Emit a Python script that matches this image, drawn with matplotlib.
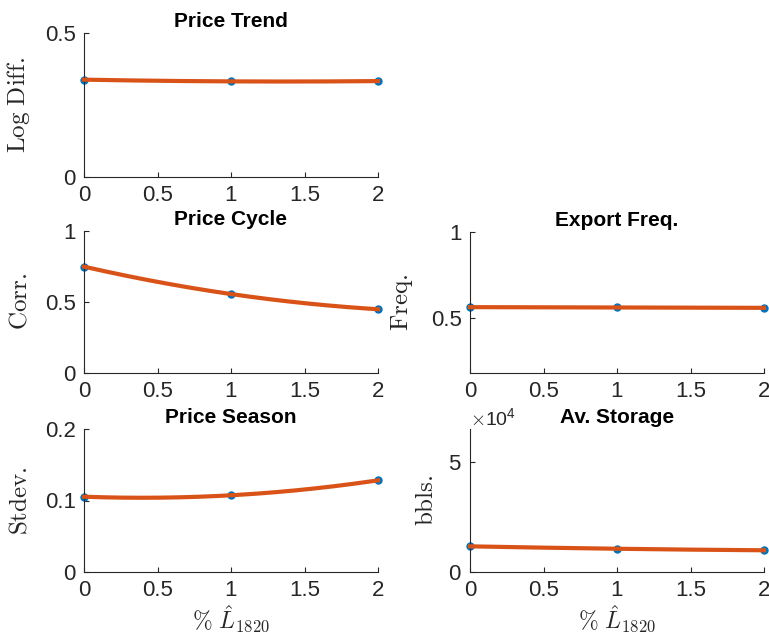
import numpy as np
import matplotlib
matplotlib.use('Agg')
import matplotlib.pyplot as plt
from matplotlib.ticker import ScalarFormatter

# 数据
x_vals = [0, 1, 2]
price_trend = [0.338, 0.332, 0.333]
price_cycle = [0.749, 0.556, 0.449]
export_freq = [0.563, 0.561, 0.559]
price_season = [0.1053, 0.1073, 0.1282]
av_storage = [1.17e4, 1.06e4, 0.99e4]

titles = ['Price Trend', 'Price Cycle', 'Export Freq.', 'Price Season', 'Av. Storage']
ylabels = [r'$\mathrm{Log\ Diff.}$', r'$\mathrm{Corr.}$', r'$\mathrm{Freq.}$',
           r'$\mathrm{Stdev.}$', r'$\mathrm{bbls.}$']
xlabel = r'$\%\ \hat{L}_{1820}$'

plt.rcParams['font.family'] = ['Liberation Sans', 'DejaVu Sans']
plt.rcParams['mathtext.fontset'] = 'cm'

W, H = 769, 641
fig = plt.figure(figsize=(W / 100, H / 100), dpi=100)

gray = '#262626'
line_c = '#D95319'
dot_c = '#0072BD'


def make_ax(left, top, right, bottom):
    return fig.add_axes([left / W, (H - bottom) / H, (right - left) / W, (bottom - top) / H])


# 子图位置（像素）
ax1 = make_ax(84, 33, 378, 177)
ax2 = make_ax(84, 231, 378, 373)
ax3 = make_ax(470, 232, 764, 373)
ax4 = make_ax(84, 429, 378, 572)
ax5 = make_ax(470, 429, 764, 572)

axes = [ax1, ax2, ax3, ax4, ax5]
data = [price_trend, price_cycle, export_freq, price_season, av_storage]
ylims = [(0, 0.5), (0, 1), (0.18, 1), (0, 0.2), (0, 6.52e4)]
yticks = [[0, 0.5], [0, 0.5, 1], [0.5, 1], [0, 0.1, 0.2], [0, 5e4]]
label_x = [-0.177, -0.177, -0.187, -0.18, -0.11]

for ax, y, t, yl, lim, yt, lx in zip(axes, data, titles, ylabels, ylims, yticks, label_x):
    # 二次拟合曲线
    p = np.polyfit(x_vals, y, 2)
    xx = np.linspace(0, 2, 200)
    ax.plot(x_vals, y, 'o', color=dot_c, markersize=5, clip_on=False, zorder=2)
    ax.plot(xx, np.polyval(p, xx), color=line_c, linewidth=3, zorder=3, clip_on=False)
    ax.set_xlim(0, 2)
    ax.set_ylim(*lim)
    ax.set_xticks([0, 0.5, 1, 1.5, 2])
    ax.set_xticklabels(['0', '0.5', '1', '1.5', '2'])
    ax.set_yticks(yt)
    ax.set_title(t, fontsize=15, fontweight='bold', pad=4)
    ax.set_ylabel(yl, fontsize=18, color=gray)
    ax.yaxis.set_label_coords(lx, 0.5)
    ax.spines['top'].set_visible(False)
    ax.spines['right'].set_visible(False)
    for s in ['left', 'bottom']:
        ax.spines[s].set_color(gray)
        ax.spines[s].set_linewidth(0.8)
    ax.tick_params(direction='in', length=3.5, width=0.8, colors=gray, labelsize=16, pad=6)

ax1.set_yticklabels(['0', '0.5'])
ax2.set_yticklabels(['0', '0.5', '1'])
ax3.set_yticklabels(['0.5', '1'])
ax4.set_yticklabels(['0', '0.1', '0.2'])

fmt = ScalarFormatter(useMathText=True)
fmt.set_powerlimits((0, 0))
ax5.yaxis.set_major_formatter(fmt)
ax5.yaxis.get_offset_text().set_fontsize(14)
ax5.yaxis.get_offset_text().set_color(gray)

ax4.set_xlabel(xlabel, fontsize=17, color=gray, labelpad=2)
ax5.set_xlabel(xlabel, fontsize=17, color=gray, labelpad=2)

plt.savefig('out.png', dpi=100)
